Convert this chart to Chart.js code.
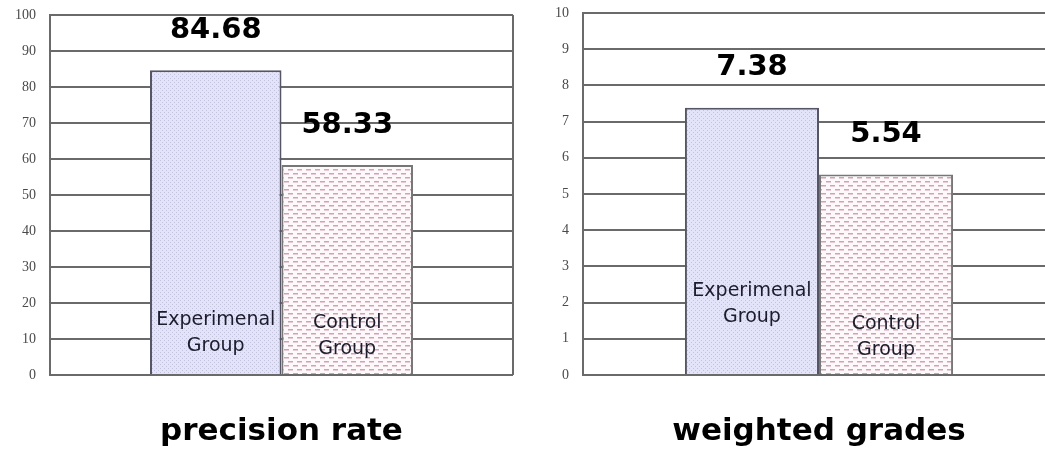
<!DOCTYPE html>
<html>
<head>
<meta charset="utf-8">
<script src="https://cdn.jsdelivr.net/npm/chart.js@4"></script>
<style>
  body { margin: 0; background: #fff; overflow: hidden; width: 1045px; height: 450px; position: relative; }
  canvas { position: absolute; top: 0; }
  #precision { left: 0; }
  #weighted { left: 533px; }
</style>
</head>
<body>
<canvas id="precision" width="530" height="450"></canvas>
<canvas id="weighted" width="540" height="450"></canvas>
<script>
// group names, drawn inside the bars (two lines each)
const groupNames = [['Experimenal', 'Group'], ['Control', 'Group']];
const precisionRate = [84.68, 58.33];
const weightedGrades = [7.38, 5.54];
const precisionTicks = { max: 100, step: 10 };
const gradeTicks = { max: 10, step: 1 };

function dotPattern() {
  const c = document.createElement('canvas');
  c.width = 4; c.height = 4;
  const g = c.getContext('2d');
  g.fillStyle = '#e3e3f9';
  g.fillRect(0, 0, 4, 4);
  g.fillStyle = '#c2c2dc';
  g.fillRect(0, 0, 1, 1);
  g.fillRect(2, 2, 1, 1);
  return g.createPattern(c, 'repeat');
}

function dashPattern() {
  const c = document.createElement('canvas');
  c.width = 9; c.height = 8;
  const g = c.getContext('2d');
  g.fillStyle = '#fdf8fa';
  g.fillRect(0, 0, 9, 8);
  g.fillStyle = '#d2a2b4';
  g.fillRect(0, 1, 5, 1.5);
  g.fillRect(5, 5, 4, 1.5);
  g.fillRect(0, 5, 1, 1.5);
  return g.createPattern(c, 'repeat');
}

// value on top of each bar, group name inside, right frame line and the title under the plot
const barText = {
  id: 'barText',
  afterDatasetsDraw(chart, args, opts) {
    const ctx = chart.ctx;
    const area = chart.chartArea;
    ctx.save();
    ctx.strokeStyle = '#6a6a6a';
    ctx.lineWidth = 2;
    ctx.beginPath();
    ctx.moveTo(area.right, area.top);
    ctx.lineTo(area.right, area.bottom);
    ctx.stroke();

    ctx.textAlign = 'center';
    ctx.textBaseline = 'middle';
    chart.data.datasets.forEach((ds, i) => {
      const bar = chart.getDatasetMeta(i).data[0];
      ctx.font = 'bold 29px "DejaVu Sans"';
      ctx.fillStyle = '#000';
      ctx.fillText(ds.data[0].toFixed(2), bar.x, bar.y - 40);

      ctx.font = '19px "DejaVu Sans"';
      ctx.fillStyle = '#1c1c2c';
      const y0 = area.bottom - opts.lift[i];
      groupNames[i].forEach((t, k) => ctx.fillText(t, bar.x, y0 + k * 26));
    });

    ctx.font = 'bold 31px "DejaVu Sans"';
    ctx.fillStyle = '#000';
    ctx.fillText(opts.title, (area.left + area.right) / 2, 432);
    ctx.restore();
  }
};

function makeChart(id, values, ticks, title, lift, padTop, padRight) {
  new Chart(document.getElementById(id), {
    type: 'bar',
    data: {
      labels: [''],
      datasets: [
        { label: groupNames[0].join(' '), data: [values[0]], backgroundColor: dotPattern(),
          borderColor: '#555566', borderWidth: 2 },
        { label: groupNames[1].join(' '), data: [values[1]], backgroundColor: dashPattern(),
          borderColor: '#777', borderWidth: 2 }
      ]
    },
    options: {
      responsive: false,
      animation: false,
      devicePixelRatio: 1,
      layout: { padding: { top: padTop, right: padRight, bottom: 75, left: 0 } },
      datasets: { bar: { barPercentage: 1, categoryPercentage: 0.568 } },
      plugins: {
        legend: { display: false },
        tooltip: { enabled: false },
        barText: { title: title, lift: lift }
      },
      scales: {
        x: { display: false },
        y: {
          min: 0, max: ticks.max,
          afterFit: (scale) => {
            scale.width = 50;
            scale.paddingTop = 0;
            scale.paddingBottom = 0;
          },
          ticks: { stepSize: ticks.step, padding: 14, color: '#4a4a4a',
                   font: { family: 'Liberation Serif', size: 14 } },
          grid: { color: '#6a6a6a', lineWidth: 2, drawTicks: false },
          border: { display: true, color: '#6a6a6a', width: 2 }
        }
      }
    },
    plugins: [barText]
  });
}

makeChart('precision', precisionRate, precisionTicks, 'precision rate', [55, 52], 15, 17);
makeChart('weighted', weightedGrades, gradeTicks, 'weighted grades', [84, 51], 13, 18);
</script>
</body>
</html>
